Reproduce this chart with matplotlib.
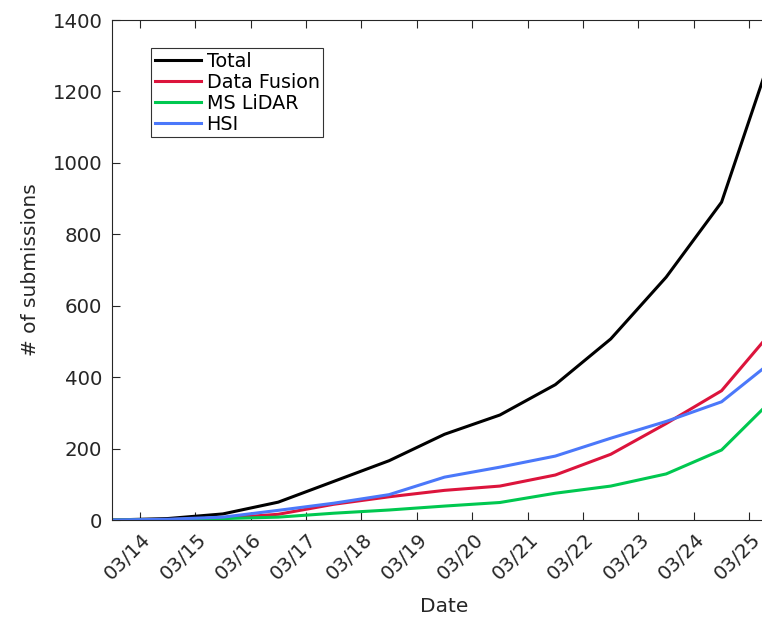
import numpy as np
import matplotlib as mpl
mpl.use("Agg")
import matplotlib.pyplot as plt
import matplotlib.transforms as mtransforms

plt.rcParams["font.family"] = ["DejaVu Sans"]

# submissions per day, sampled at mid-day (day of March)
days = [13.5, 14.5, 15.5, 16.5, 17.5, 18.5, 19.5, 20.5, 21.5, 22.5, 23.5, 24.5, 25.5]
total = [0, 4, 17, 50, 108, 166, 240, 294, 379, 507, 680, 890, 1350]
data_fusion = [0, 1, 5, 16, 44, 65, 83, 95, 126, 184, 270, 362, 545]
ms_lidar = [0, 1, 4, 8, 19, 28, 39, 49, 75, 95, 129, 196, 350]
hsi = [0, 2, 8, 27, 47, 71, 120, 148, 179, 229, 276, 331, 455]

tick_days = [14, 15, 16, 17, 18, 19, 20, 21, 22, 23, 24, 25]
tick_labels = ["03/14", "03/15", "03/16", "03/17", "03/18", "03/19",
               "03/20", "03/21", "03/22", "03/23", "03/24", "03/25"]

grey = (0.15, 0.15, 0.15)

fig = plt.figure(figsize=(7.62, 6.19), dpi=100)
# the right edge of the axes falls just outside the picture, as in the source
ax = fig.add_axes([112 / 762, 99 / 619, 665 / 762, 500 / 619])

lw = 2.2
ax.plot(days, total, color="black", lw=lw, label="Total")
ax.plot(days, data_fusion, color="#DC143C", lw=lw, label="Data Fusion")
ax.plot(days, ms_lidar, color="#00C850", lw=lw, label="MS LiDAR")
ax.plot(days, hsi, color="#4B78FA", lw=lw, label="HSI")

ax.set_xlim(13.5, 25.5)
ax.set_ylim(0, 1400)
ax.set_yticks(np.arange(0, 1401, 200))
ax.set_xticks(tick_days)
ax.set_xticklabels(tick_labels, rotation=45, ha="right", va="center",
                   rotation_mode="anchor")

ax.tick_params(direction="in", length=6, width=0.8, colors=grey,
               labelsize=14.2, top=True, right=True)
ax.tick_params(axis="y", pad=7)
ax.tick_params(axis="x", pad=12)
shift = mtransforms.ScaledTranslation(8 / 100, 0, fig.dpi_scale_trans)
for lab in ax.get_xticklabels():
    lab.set_transform(lab.get_transform() + shift)
for s in ax.spines.values():
    s.set_color(grey)
    s.set_linewidth(0.8)

ax.set_xlabel("Date", fontsize=14.5, color=grey, labelpad=10)
ax.set_ylabel("# of submissions", fontsize=14.5, color=grey, labelpad=9)

leg = ax.legend(loc="upper left", bbox_to_anchor=(151 / 762, 1 - 48 / 619),
                bbox_transform=fig.transFigure, fontsize=13.8, frameon=True,
                fancybox=False, edgecolor="black", borderpad=0.2,
                handlelength=2.4, handletextpad=0.3, labelspacing=0.1,
                borderaxespad=0)
leg.get_frame().set_linewidth(0.8)

fig.savefig("out.png", dpi=100)
